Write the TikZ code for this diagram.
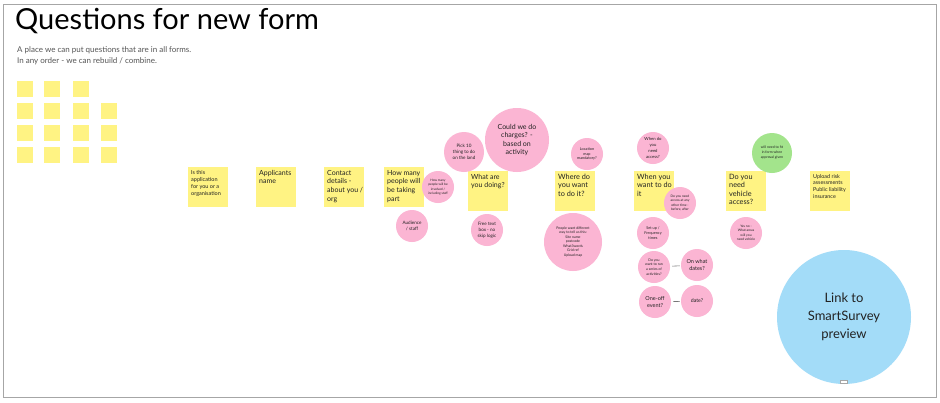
\documentclass[tikz,border=0pt]{standalone}
\usepackage{fontspec}
\setmainfont{Lato}
\definecolor{sticky}{HTML}{FFF383}
\definecolor{pinkc}{HTML}{FBB5D3}
\definecolor{greenc}{HTML}{A3E48C}
\definecolor{bluec}{HTML}{A3DCF8}
\definecolor{framec}{HTML}{A6A6A6}
\definecolor{inkc}{HTML}{222222}
\definecolor{subc}{HTML}{555555}
\definecolor{linkc}{HTML}{777777}
\newcommand{\fsz}[2]{\fontsize{#1}{#2}\selectfont}
\newcommand{\notetext}[1]{\parbox[t][34pt][t]{34pt}{\raggedright #1}}
\begin{document}
\begin{tikzpicture}[x=1pt,y=-1pt,
  sq/.style={fill=sticky, minimum size=16, inner sep=0, anchor=north west},
  note/.style={fill=sticky, anchor=north west, inner sep=3, minimum size=40, text=inkc},
  smallnote/.style={note, font=\fsz{5.5}{7}},
  bignote/.style={note, font=\fsz{7}{8.6}},
  bubble/.style={circle, fill=pinkc, inner sep=0, align=center, text=inkc},
  b16/.style={bubble, minimum size=32},
  link/.style={draw=linkc, line width=0.6, shorten <=2, shorten >=1}
]
\useasboundingbox (0,0) rectangle (940,402);
\fill[white] (0,0) rectangle (940,402);
\draw[framec, line width=1] (3,4) rectangle (936,397);

\node[anchor=base west, inner sep=0, font=\fsz{29}{32}, text=black] (title) at (15,29) {Questions for new form};
\node[anchor=base west, inner sep=0, font=\fsz{8}{10}, text=subc] (sub1) at (17,52.7) {A place we can put questions that are in all forms.};
\node[anchor=base west, inner sep=0, font=\fsz{8}{10}, text=subc] (sub2) at (17,63) {In any order - we can rebuild / combine.};

% small squares
\node[sq] (s11) at (17,81) {};
\node[sq] (s12) at (44,81) {};
\node[sq] (s13) at (73,81) {};
\node[sq] (s21) at (17,103) {};
\node[sq] (s22) at (44,103) {};
\node[sq] (s23) at (73,103) {};
\node[sq] (s24) at (101,103) {};
\node[sq] (s31) at (17,125) {};
\node[sq] (s32) at (44,125) {};
\node[sq] (s33) at (73,125) {};
\node[sq] (s34) at (101,125) {};
\node[sq] (s41) at (17,147) {};
\node[sq] (s42) at (44,147) {};
\node[sq] (s43) at (73,147) {};
\node[sq] (s44) at (101,147) {};

% stickies
\node[smallnote] (app) at (188,167) {\notetext{Is this\\application\\\mbox{for you or a}\\organisation}};
\node[bignote] (name) at (256,167) {\notetext{Applicants\\name}};
\node[bignote] (contact) at (324,167) {\notetext{Contact\\details -\\\mbox{about you /}\\org}};
\node[bignote] (howmany) at (384,167) {\notetext{How many\\\mbox{people will}\\\mbox{be taking}\\part}};
\node[bignote] (what) at (468,171) {\notetext{What are\\\mbox{you doing?}}};
\node[bignote, font=\fsz{7.3}{8.3}] (where) at (555,171) {\notetext{Where do\\\mbox{you want}\\\mbox{to do it?}}};
\node[bignote, font=\fsz{7.3}{8.3}] (when) at (634,171) {\notetext{\mbox{When you}\\\mbox{want to do}\\it}};
\node[bignote, font=\fsz{7.3}{8.3}] (vehicle) at (726,171) {\notetext{Do you\\need\\vehicle\\access?}};
\node[smallnote, font=\fsz{5.4}{6.7}] (upload) at (810,171) {\notetext{\mbox{Upload risk}\\\mbox{assessments}\\\mbox{Public liability}\\insurance}};

% bubbles
\node[b16, font=\fsz{3.2}{4.3}] (inv) at (438,187) {How many\\people will be\\involved /\\including staff};
\node[b16, font=\fsz{4.6}{5.8}] (aud) at (412,226) {Audience\\/ staff};
\node[bubble, minimum size=40, font=\fsz{4.6}{5.8}] (pick) at (464,152) {Pick 10\\thing to do\\on the land};
\node[bubble, minimum size=64, font=\fsz{7}{8.3}] (charge) at (517,140) {Could we do\\charges? -\\based on\\activity};
\node[b16, font=\fsz{4.6}{5.8}] (free) at (487,230) {Free text\\box - no\\skip logic};
\node[b16, font=\fsz{3.8}{4.8}] (loc) at (587,154) {Location\\map\\mandatory?};
\node[bubble, minimum size=58, font=\fsz{3.5}{4.5}] (people) at (573,242) {People want different\\way to tell us this:\\Site name\\postcode\\What3words\\Grid ref\\Upload map};
\node[b16, font=\fsz{4.2}{6}] (whenacc) at (653,148) {When do\\you\\need\\access?};
\node[b16, font=\fsz{3.3}{4.5}] (other) at (680,203) {Do you need\\access at any\\other time -\\before, after};
\node[b16, font=\fsz{3.8}{5}] (setup) at (653,233) {Set up /\\Frequency\\times};
\node[b16, font=\fsz{3.5}{4.6}] (series) at (654,267) {Do you\\want to run\\a series of\\activities?};
\node[b16, font=\fsz{5.5}{6.6}] (dates) at (697,265) {On what\\dates?};
\node[b16, font=\fsz{5.5}{6.6}] (oneoff) at (655,302) {One-off\\event?};
\node[b16, font=\fsz{5.2}{6.6}] (date) at (697,301) {date?};
\node[bubble, fill=greenc, minimum size=40, font=\fsz{3.5}{5}] (green) at (772,153) {will need to fit\\in form when\\approval given};
\node[b16, font=\fsz{3.3}{4.5}] (veh) at (746,233) {Yes no -\\What areas\\will you\\need vehicle};
\node[bubble, fill=bluec, minimum size=134, font=\fsz{13}{18}] (blue) at (844,317) {Link to\\SmartSurvey\\preview};
\node[draw=framec, fill=white, line width=0.3, minimum width=7, minimum height=2.5, inner sep=0] (tab) at (844,381.5) {};

\draw[link] (series) -- (dates);
\draw[link] (oneoff) -- (date);
\end{tikzpicture}
\end{document}
